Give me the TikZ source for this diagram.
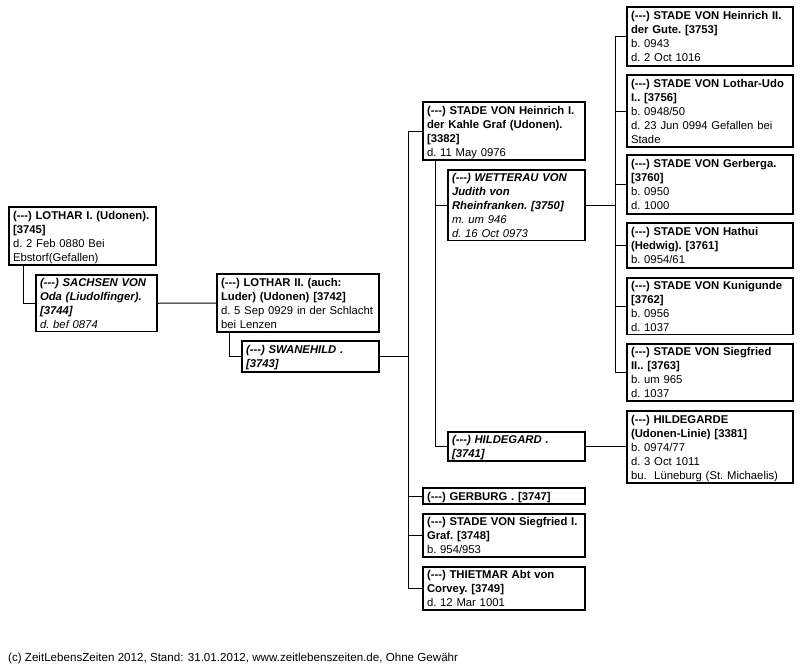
\documentclass[tikz,border=0pt]{standalone}
\usepackage{fontspec}
\setmainfont{Liberation Sans}
\usetikzlibrary{calc}
\tikzset{
  x=1pt, y=-1pt,
  pbox/.style={draw, line width=1.2pt, anchor=north west, outer sep=0pt,
    inner xsep=4pt, inner ysep=0pt, align=left,
    font=\fontsize{11.3}{14}\selectfont\frenchspacing,
    execute at begin node={\rule{0pt}{11.5pt}},
    execute at end node={\rule[-3pt]{0pt}{3pt}}},
  conn/.style={draw, line width=1pt},
  foot/.style={anchor=base west, inner sep=0pt, font=\fontsize{11.6}{14}\selectfont}
}
\newcommand{\bl}[1]{\textbf{#1}}
\newcommand{\bi}[1]{\textbf{\textit{#1}}}
\newcommand{\dsh}{(-{}-{}-)}
\begin{document}
\begin{tikzpicture}
\useasboundingbox[fill=white] (0,0) rectangle (808,670);

% left column
\node[pbox, minimum width=147pt, minimum height=58pt, text width=139pt] (lothar1) at (9,207)
  {\bl{\dsh{} LOTHAR I. (Udonen).}\\\bl{[3745]}\\d. 2 Feb 0880 Bei\\Ebstorf(Gefallen)};
\node[pbox, minimum width=121pt, minimum height=56pt, text width=113pt] (sachsen) at (36,275)
  {\bi{\dsh{} SACHSEN VON}\\\bi{Oda (Liudolfinger).}\\\bi{[3744]}\\\textit{d. bef 0874}};

% second column
\node[pbox, minimum width=162pt, minimum height=58pt, text width=154pt] (lothar2) at (217,274)
  {\bl{\dsh{} LOTHAR II. (auch:}\\\bl{Luder) (Udonen) [3742]}\\d. 5 Sep 0929 in der Schlacht\\bei Lenzen};
\node[pbox, minimum width=137pt, minimum height=31pt, text width=129pt] (swan) at (242,341)
  {\bi{\dsh{} SWANEHILD .}\\\bi{[3743]}};

% third column
\node[pbox, minimum width=162pt, minimum height=58pt, text width=154pt] (heinrich1) at (423,102)
  {\bl{\dsh{} STADE VON Heinrich I.}\\\bl{der Kahle Graf (Udonen).}\\\bl{[3382]}\\d. 11 May 0976};
\node[pbox, minimum width=137pt, minimum height=70pt, text width=129pt] (wetterau) at (448,170)
  {\bi{\dsh{} WETTERAU VON}\\\bi{Judith von}\\\bi{Rheinfranken. [3750]}\\\textit{m. um 946}\\\textit{d. 16 Oct 0973}};
\node[pbox, minimum width=137pt, minimum height=29pt, text width=129pt] (hildegard) at (448,432)
  {\bi{\dsh{} HILDEGARD .}\\\bi{[3741]}};
\node[pbox, minimum width=162pt, minimum height=16pt, text width=154pt] (gerburg) at (423,488)
  {\bl{\dsh{} GERBURG . [3747]}};
\node[pbox, minimum width=162pt, minimum height=43pt, text width=154pt] (siegfried1) at (423,514)
  {\bl{\dsh{} STADE VON Siegfried I.}\\\bl{Graf. [3748]}\\b. 954/953};
\node[pbox, minimum width=162pt, minimum height=43pt, text width=154pt] (thietmar) at (423,567)
  {\bl{\dsh{} THIETMAR Abt von}\\\bl{Corvey. [3749]}\\d. 12 Mar 1001};

% right column
\node[pbox, minimum width=166pt, minimum height=59pt, text width=158pt] (heinrich2) at (627,7)
  {\bl{\dsh{} STADE VON Heinrich II.}\\\bl{der Gute. [3753]}\\b. 0943\\d. 2 Oct 1016};
\node[pbox, minimum width=166pt, minimum height=72pt, text width=158pt] (lotharudo) at (627,75)
  {\bl{\dsh{} STADE VON Lothar-Udo}\\\bl{I.. [3756]}\\b. 0948/50\\d. 23 Jun 0994 Gefallen bei\\Stade};
\node[pbox, minimum width=166pt, minimum height=59pt, text width=158pt] (gerberga) at (627,155)
  {\bl{\dsh{} STADE VON Gerberga.}\\\bl{[3760]}\\b. 0950\\d. 1000};
\node[pbox, minimum width=166pt, minimum height=45pt, text width=158pt] (hathui) at (627,223)
  {\bl{\dsh{} STADE VON Hathui}\\\bl{(Hedwig). [3761]}\\b. 0954/61};
\node[pbox, minimum width=166pt, minimum height=56pt, text width=158pt] (kunigunde) at (627,278)
  {\bl{\dsh{} STADE VON Kunigunde}\\\bl{[3762]}\\b. 0956\\d. 1037};
\node[pbox, minimum width=166pt, minimum height=57pt, text width=158pt] (siegfried2) at (627,344)
  {\bl{\dsh{} STADE VON Siegfried}\\\bl{II.. [3763]}\\b. um 965\\d. 1037};
\node[pbox, minimum width=166pt, minimum height=72pt, text width=158pt] (hildegarde) at (627,411)
  {\bl{\dsh{} HILDEGARDE}\\\bl{(Udonen-Linie) [3381]}\\b. 0974/77\\d. 3 Oct 1011\\bu.\ \ Lüneburg (St. Michaelis)};

% connectors
\draw[conn] ($(lothar1.south west)+(14,0)$) |- (sachsen.west);
\draw[conn] (sachsen.east) -- (lothar2.west);
\draw[conn] ($(lothar2.south west)+(12,0)$) |- (swan.west);
\draw[conn] (swan.east) -- ++(29,0) coordinate (busL);
\draw[conn] (heinrich1.west) -- ++(-15,0) |- (thietmar.west);
\draw[conn] (gerburg.west) -- ++(-15,0);
\draw[conn] (siegfried1.west) -- ++(-15,0);
\draw[conn] ($(heinrich1.south west)+(12,0)$) |- (hildegard.west);
\draw[conn] (wetterau.west) -- ++(-13,0);
\draw[conn] (wetterau.east) -- ++(30,0) coordinate (busR);
\draw[conn] (heinrich2.west) -- ++(-12,0) |- (siegfried2.west);
\draw[conn] (lotharudo.west) -- ++(-12,0);
\draw[conn] (gerberga.west) -- ++(-12,0);
\draw[conn] (hathui.west) -- ++(-12,0);
\draw[conn] (kunigunde.west) -- ++(-12,0);
\draw[conn] (hildegard.east) -- (hildegard.east -| hildegarde.west);

% footer
\node[foot] (footer) at (8,661) {(c) ZeitLebensZeiten 2012, Stand: 31.01.2012, www.zeitlebenszeiten.de, Ohne Gewähr};
\end{tikzpicture}
\end{document}
